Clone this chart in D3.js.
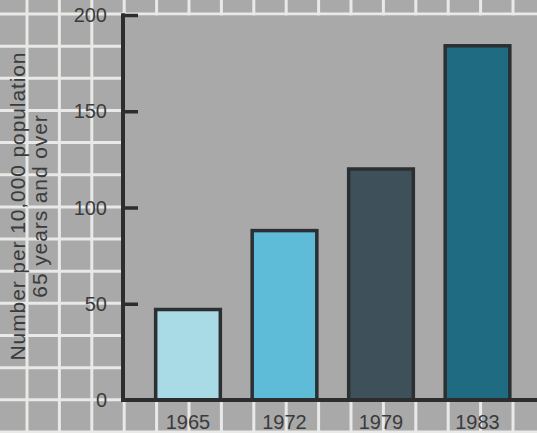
<!DOCTYPE html>
<html>
<head>
<meta charset="utf-8">
<script src="https://cdn.jsdelivr.net/npm/d3@7"></script>
<style>
  html, body { margin: 0; padding: 0; background: #a9a9a9; }
  svg { display: block; }
  text { font-family: "Liberation Sans", Arial, Helvetica, sans-serif; }
</style>
</head>
<body>
<div id="chart"></div>
<script>
// ---- data ----
const years = ["1965", "1972", "1979", "1983"];
const values = [47, 88, 120, 184];
const barColors = ["#a8dbe6", "#5ebcd9", "#3e505a", "#1f6b82"];
const yTicks = [0, 50, 100, 150, 200];
const yTitleLines = ["Number per 10,000 population", "65 years and over"];

// ---- layout ----
const W = 537, H = 433;
const plotLeft = 123, plotTop = 14, plotBottom = 400, plotRight = W;

const svg = d3.select("#chart").append("svg")
  .attr("width", W).attr("height", H);

// background
svg.append("rect").attr("width", W).attr("height", H).attr("fill", "#a9a9a9");

// grid outside the plot area
const gridX = d3.range(0, 17).map(i => 27 + i * 32.4);
const gridY = d3.range(0, 14).map(i => 14 + i * 32.15);
const grid = svg.append("g").attr("stroke", "#e9e9e7").attr("stroke-width", 3);
grid.selectAll("line.v").data(gridX).join("line")
  .attr("x1", d => d).attr("x2", d => d).attr("y1", 0).attr("y2", H);
grid.selectAll("line.h").data(gridY).join("line")
  .attr("y1", d => d).attr("y2", d => d).attr("x1", 0).attr("x2", W);

// plot area (no grid)
svg.append("rect")
  .attr("x", plotLeft).attr("y", plotTop + 1.5)
  .attr("width", plotRight - plotLeft).attr("height", plotBottom - plotTop - 1.5)
  .attr("fill", "#a9a9a9");

// scales
const y = d3.scaleLinear().domain([0, 200]).range([plotBottom, 15]);
const x = d3.scaleBand().domain(years)
  .range([139.75, 525.75]).paddingInner(0.33).paddingOuter(0.165);

// bars
svg.append("g").selectAll("rect").data(years).join("rect")
  .attr("x", d => x(d))
  .attr("y", (d, i) => y(values[i]))
  .attr("width", x.bandwidth())
  .attr("height", (d, i) => y(0) - y(values[i]))
  .attr("fill", (d, i) => barColors[i])
  .attr("stroke", "#2b2f31")
  .attr("stroke-width", 3.5);

// y axis
const yAxis = svg.append("g")
  .attr("transform", `translate(${plotLeft},0)`)
  .call(d3.axisRight(y).tickValues(yTicks.filter(t => t > 0)).tickSize(15).tickFormat(""));
yAxis.select(".domain").remove();
yAxis.selectAll(".tick line").attr("stroke", "#2b2d2f").attr("stroke-width", 3.5);
svg.append("line")
  .attr("x1", plotLeft).attr("x2", plotLeft)
  .attr("y1", y(200) - 1.75).attr("y2", plotBottom + 2)
  .attr("stroke", "#2b2d2f").attr("stroke-width", 4);

// baseline
svg.append("line")
  .attr("x1", plotLeft - 2).attr("x2", W)
  .attr("y1", plotBottom).attr("y2", plotBottom)
  .attr("stroke", "#2b2d2f").attr("stroke-width", 4);

// y tick labels
svg.append("g").selectAll("text").data(yTicks).join("text")
  .attr("x", 107).attr("y", d => y(d))
  .attr("dy", "0.36em")
  .attr("text-anchor", "end")
  .attr("font-size", 20)
  .attr("fill", "#3a3b3c")
  .text(d => d);

// x labels
svg.append("g").selectAll("text").data(years).join("text")
  .attr("x", d => x(d) + x.bandwidth() / 2)
  .attr("y", 429)
  .attr("text-anchor", "middle")
  .attr("font-size", 20)
  .attr("fill", "#3a3b3c")
  .text(d => d);

// y title
const titleG = svg.append("g").attr("transform", "translate(0,206) rotate(-90)");
titleG.selectAll("text").data(yTitleLines).join("text")
  .attr("x", 0)
  .attr("y", (d, i) => 25 + i * 22)
  .attr("text-anchor", "middle")
  .attr("font-size", 21)
  .attr("letter-spacing", "0.9px")
  .attr("fill", "#3a3b3c")
  .text(d => d);
</script>
</body>
</html>
